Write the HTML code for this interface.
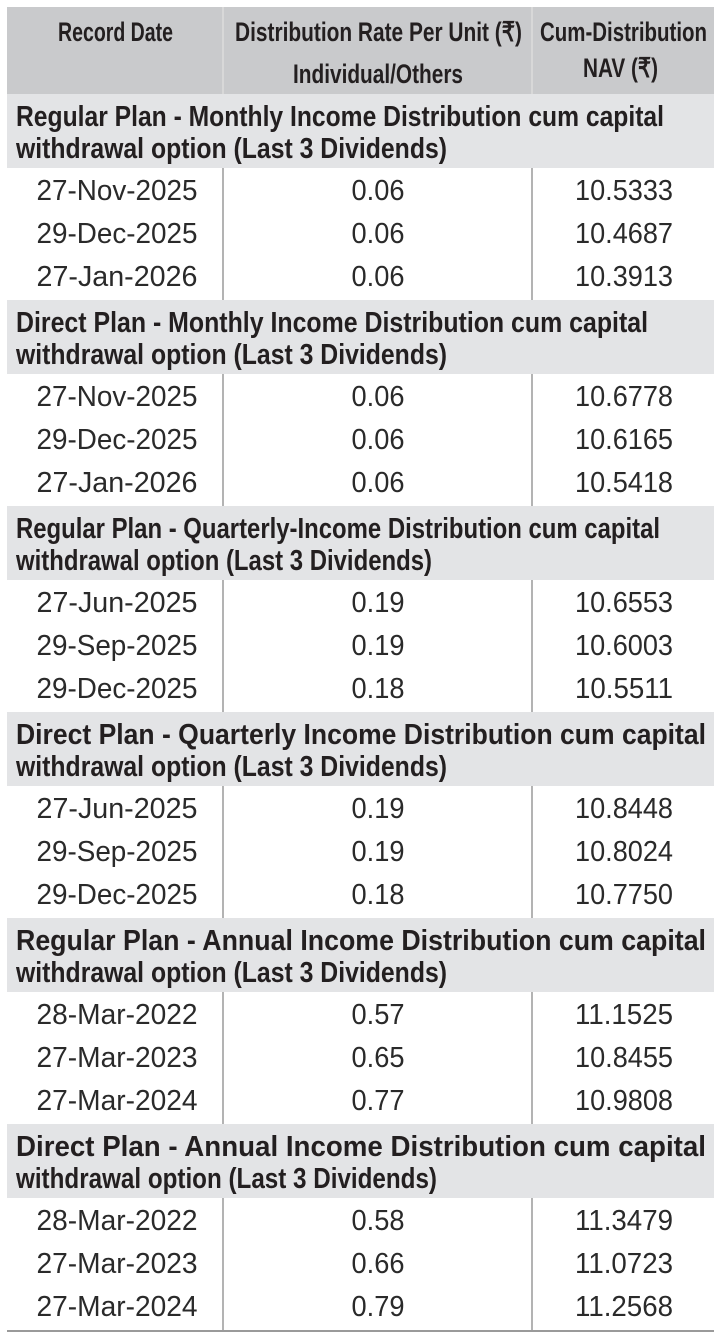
<!DOCTYPE html>
<html><head><meta charset="utf-8"><style>
html,body{margin:0;padding:0;background:#fff;width:723px;height:1341px;overflow:hidden}
svg{display:block}
.h{font-family:"Liberation Sans",sans-serif;font-weight:bold;font-size:27px;fill:#231f20}
.s{font-family:"Liberation Sans",sans-serif;font-weight:bold;font-size:29px;fill:#231f20}
.d{font-family:"Liberation Sans",sans-serif;font-size:29px;fill:#2a2a2a}
</style></head><body>
<svg width="723" height="1341" viewBox="0 0 723 1341" xmlns="http://www.w3.org/2000/svg">
<rect x="0" y="0" width="723" height="1341" fill="#fff"/>
<rect x="7" y="7" width="707" height="87" fill="#c9cacc"/>
<line x1="223" y1="7" x2="223" y2="94" stroke="#dcdcdc" stroke-width="1.5"/>
<line x1="532" y1="7" x2="532" y2="94" stroke="#dcdcdc" stroke-width="1.5"/>
<text class="h" x="58" y="41" textLength="115" lengthAdjust="spacingAndGlyphs">Record Date</text>
<text class="h" x="235" y="41" textLength="287" lengthAdjust="spacingAndGlyphs">Distribution Rate Per Unit (₹)</text>
<text class="h" x="293" y="83" textLength="170" lengthAdjust="spacingAndGlyphs">Individual/Others</text>
<text class="h" x="540" y="41" textLength="167" lengthAdjust="spacingAndGlyphs">Cum-Distribution</text>
<text class="h" x="583" y="77" textLength="75" lengthAdjust="spacingAndGlyphs">NAV (₹)</text>
<g id="secs"></g>
<line x1="7" y1="1331" x2="714" y2="1331" stroke="#9a9a9a" stroke-width="2"/>
</svg>
<script>
var secs=[
["Regular Plan - Monthly Income Distribution cum capital",648,"withdrawal option (Last 3 Dividends)",431,[["27-Nov-2025","0.06","10.5333"],["29-Dec-2025","0.06","10.4687"],["27-Jan-2026","0.06","10.3913"]]],
["Direct Plan - Monthly Income Distribution cum capital",632,"withdrawal option (Last 3 Dividends)",431,[["27-Nov-2025","0.06","10.6778"],["29-Dec-2025","0.06","10.6165"],["27-Jan-2026","0.06","10.5418"]]],
["Regular Plan - Quarterly-Income Distribution cum capital",644,"withdrawal option (Last 3 Dividends)",416,[["27-Jun-2025","0.19","10.6553"],["29-Sep-2025","0.19","10.6003"],["29-Dec-2025","0.18","10.5511"]]],
["Direct Plan - Quarterly Income Distribution cum capital",690,"withdrawal option (Last 3 Dividends)",431,[["27-Jun-2025","0.19","10.8448"],["29-Sep-2025","0.19","10.8024"],["29-Dec-2025","0.18","10.7750"]]],
["Regular Plan - Annual Income Distribution cum capital",690,"withdrawal option (Last 3 Dividends)",431,[["28-Mar-2022","0.57","11.1525"],["27-Mar-2023","0.65","10.8455"],["27-Mar-2024","0.77","10.9808"]]],
["Direct Plan - Annual Income Distribution cum capital",690,"withdrawal option (Last 3 Dividends)",421,[["28-Mar-2022","0.58","11.3479"],["27-Mar-2023","0.66","11.0723"],["27-Mar-2024","0.79","11.2568"]]]
];
var h="";
secs.forEach(function(s,i){
 var t=94+i*206;
 h+='<rect x="7" y="'+t+'" width="707" height="74" fill="#e3e4e6"/>';
 h+='<text class="s" x="16" y="'+(t+32)+'" textLength="'+s[1]+'" lengthAdjust="spacingAndGlyphs">'+s[0]+'</text>';
 h+='<text class="s" x="16" y="'+(t+64)+'" textLength="'+s[3]+'" lengthAdjust="spacingAndGlyphs">'+s[2]+'</text>';
 h+='<line x1="223" y1="'+(t+74)+'" x2="223" y2="'+(t+206)+'" stroke="#9a9a9a" stroke-width="1.5"/>';
 h+='<line x1="532" y1="'+(t+74)+'" x2="532" y2="'+(t+206)+'" stroke="#9a9a9a" stroke-width="1.5"/>';
 s[4].forEach(function(r,j){
  var y=t+106+j*43;
  h+='<text class="d" x="117" y="'+y+'" text-anchor="middle" textLength="161" lengthAdjust="spacingAndGlyphs">'+r[0]+'</text>';
  h+='<text class="d" x="378" y="'+y+'" text-anchor="middle" textLength="53" lengthAdjust="spacingAndGlyphs">'+r[1]+'</text>';
  h+='<text class="d" x="624" y="'+y+'" text-anchor="middle" textLength="98" lengthAdjust="spacingAndGlyphs">'+r[2]+'</text>';
 });
});
document.getElementById("secs").outerHTML=h;
</script>
</body></html>
